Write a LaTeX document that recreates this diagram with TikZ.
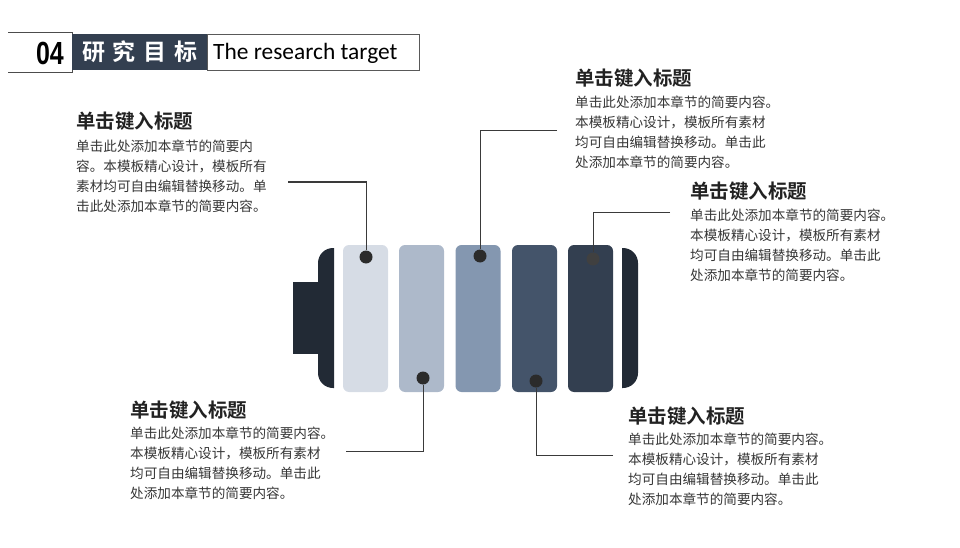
\documentclass[tikz,border=0pt]{standalone}
\usepackage{fontspec}
\setmainfont{Carlito}
\newfontfamily\cjk{Noto Sans CJK SC}[BoldFont={Noto Sans CJK SC Bold}]
\newfontfamily\numfont{Liberation Sans}
\definecolor{capc}{HTML}{222A35}
\definecolor{barA}{HTML}{D6DCE5}
\definecolor{barB}{HTML}{ADB9CA}
\definecolor{barC}{HTML}{8497B0}
\definecolor{barD}{HTML}{44546A}
\definecolor{barE}{HTML}{333F50}
\definecolor{hdrdark}{HTML}{333F50}
\definecolor{dotc}{HTML}{2B2B2B}
\definecolor{linec}{HTML}{3A3A3A}
\definecolor{titlec}{HTML}{222222}
\definecolor{bodyc}{HTML}{363636}
\begin{document}
\begin{tikzpicture}[x=1pt,y=-1pt,
  bar/.style={rounded corners=6pt, minimum width=45pt, minimum height=147pt, inner sep=0pt, draw=none},
  dot/.style={circle, fill=dotc, minimum size=13pt, inner sep=0pt},
  conn/.style={draw=linec, line width=1pt},
  ttl/.style={anchor=west, inner sep=0pt, text=titlec, font=\cjk\bfseries\fontsize{19.5}{22}\selectfont},
  body/.style={anchor=north west, inner sep=0pt, align=left, text=bodyc, font=\cjk\fontsize{13.6}{20}\selectfont},
  hdrline/.style={draw=black!70, line width=0.8pt}
]
\useasboundingbox (0,0) rectangle (960,548);

% ---------- header ----------
\draw[hdrline] (8,32) -- (72,32) -- (72,72) -- (8,72);
\fill[hdrdark] (72,34) rectangle (207,70);
\draw[draw=black!65, line width=0.9pt, fill=white] (207,34) rectangle (419,70);
\node[inner sep=0pt, font=\numfont\bfseries\fontsize{32}{32}\selectfont] (num) at (50,53) {\scalebox{0.78}[1]{04}};
\node[inner sep=0pt, text=white, font=\cjk\bfseries\fontsize{23}{24}\selectfont] (hcn) at (140,52) {研\hspace{8pt}究\hspace{8pt}目\hspace{8pt}标};
\node[anchor=west, inner sep=0pt, font=\fontsize{23.4}{26}\selectfont] (hen) at (213,53) {The research target};

% ---------- battery ----------
\fill[capc] (293,282) rectangle (318,354);
\fill[capc] (334,248) -- (334,388) [rounded corners=15pt] -- (318,388) -- (318,248) [sharp corners] -- cycle;
\fill[capc] (622,248) -- (622,388) [rounded corners=15pt] -- (638,388) -- (638,248) [sharp corners] -- cycle;

\node[bar, fill=barA] (b1) at (365.5,318.5) {};
\node[bar, fill=barB] (b2) at (421.5,318.5) {};
\node[bar, fill=barC] (b3) at (478,318.5) {};
\node[bar, fill=barD] (b4) at (534.5,318.5) {};
\node[bar, fill=barE] (b5) at (590.5,318.5) {};

\node[dot] (d1) at (366,257) {};
\node[dot] (d2) at (423,378) {};
\node[dot] (d3) at (480,256) {};
\node[dot] (d4) at (536,381) {};
\node[dot, fill=black!75] (d5) at (593,259) {};

% ---------- connectors ----------
\coordinate (e1) at (288,182);
\coordinate (e2) at (557,131);
\coordinate (e3) at (670,212);
\coordinate (e4) at (346,451);
\coordinate (e5) at (613,455);
\draw[conn] (e1) -| (d1);
\draw[conn] (e2) -| (d3);
\draw[conn] (e3) -| (d5);
\draw[conn] (e4) -| (d2);
\draw[conn] (e5) -| (d4);

% ---------- texts ----------
\node[ttl] (t1) at (76,121) {单击键入标题};
\node[body] (p1) at (76,140) {单击此处添加本章节的简要内\\容。本模板精心设计，模板所有\\素材均可自由编辑替换移动。单\\击此处添加本章节的简要内容。};

\node[ttl] (t2) at (575,78) {单击键入标题};
\node[body] (p2) at (575,96) {单击此处添加本章节的简要内容。\\本模板精心设计，模板所有素材\\均可自由编辑替换移动。单击此\\处添加本章节的简要内容。};

\node[ttl] (t3) at (690,191) {单击键入标题};
\node[body] (p3) at (690,209) {单击此处添加本章节的简要内容。\\本模板精心设计，模板所有素材\\均可自由编辑替换移动。单击此\\处添加本章节的简要内容。};

\node[ttl] (t4) at (130,410) {单击键入标题};
\node[body] (p4) at (130,427) {单击此处添加本章节的简要内容。\\本模板精心设计，模板所有素材\\均可自由编辑替换移动。单击此\\处添加本章节的简要内容。};

\node[ttl] (t5) at (628,416) {单击键入标题};
\node[body] (p5) at (628,433) {单击此处添加本章节的简要内容。\\本模板精心设计，模板所有素材\\均可自由编辑替换移动。单击此\\处添加本章节的简要内容。};
\end{tikzpicture}
\end{document}
